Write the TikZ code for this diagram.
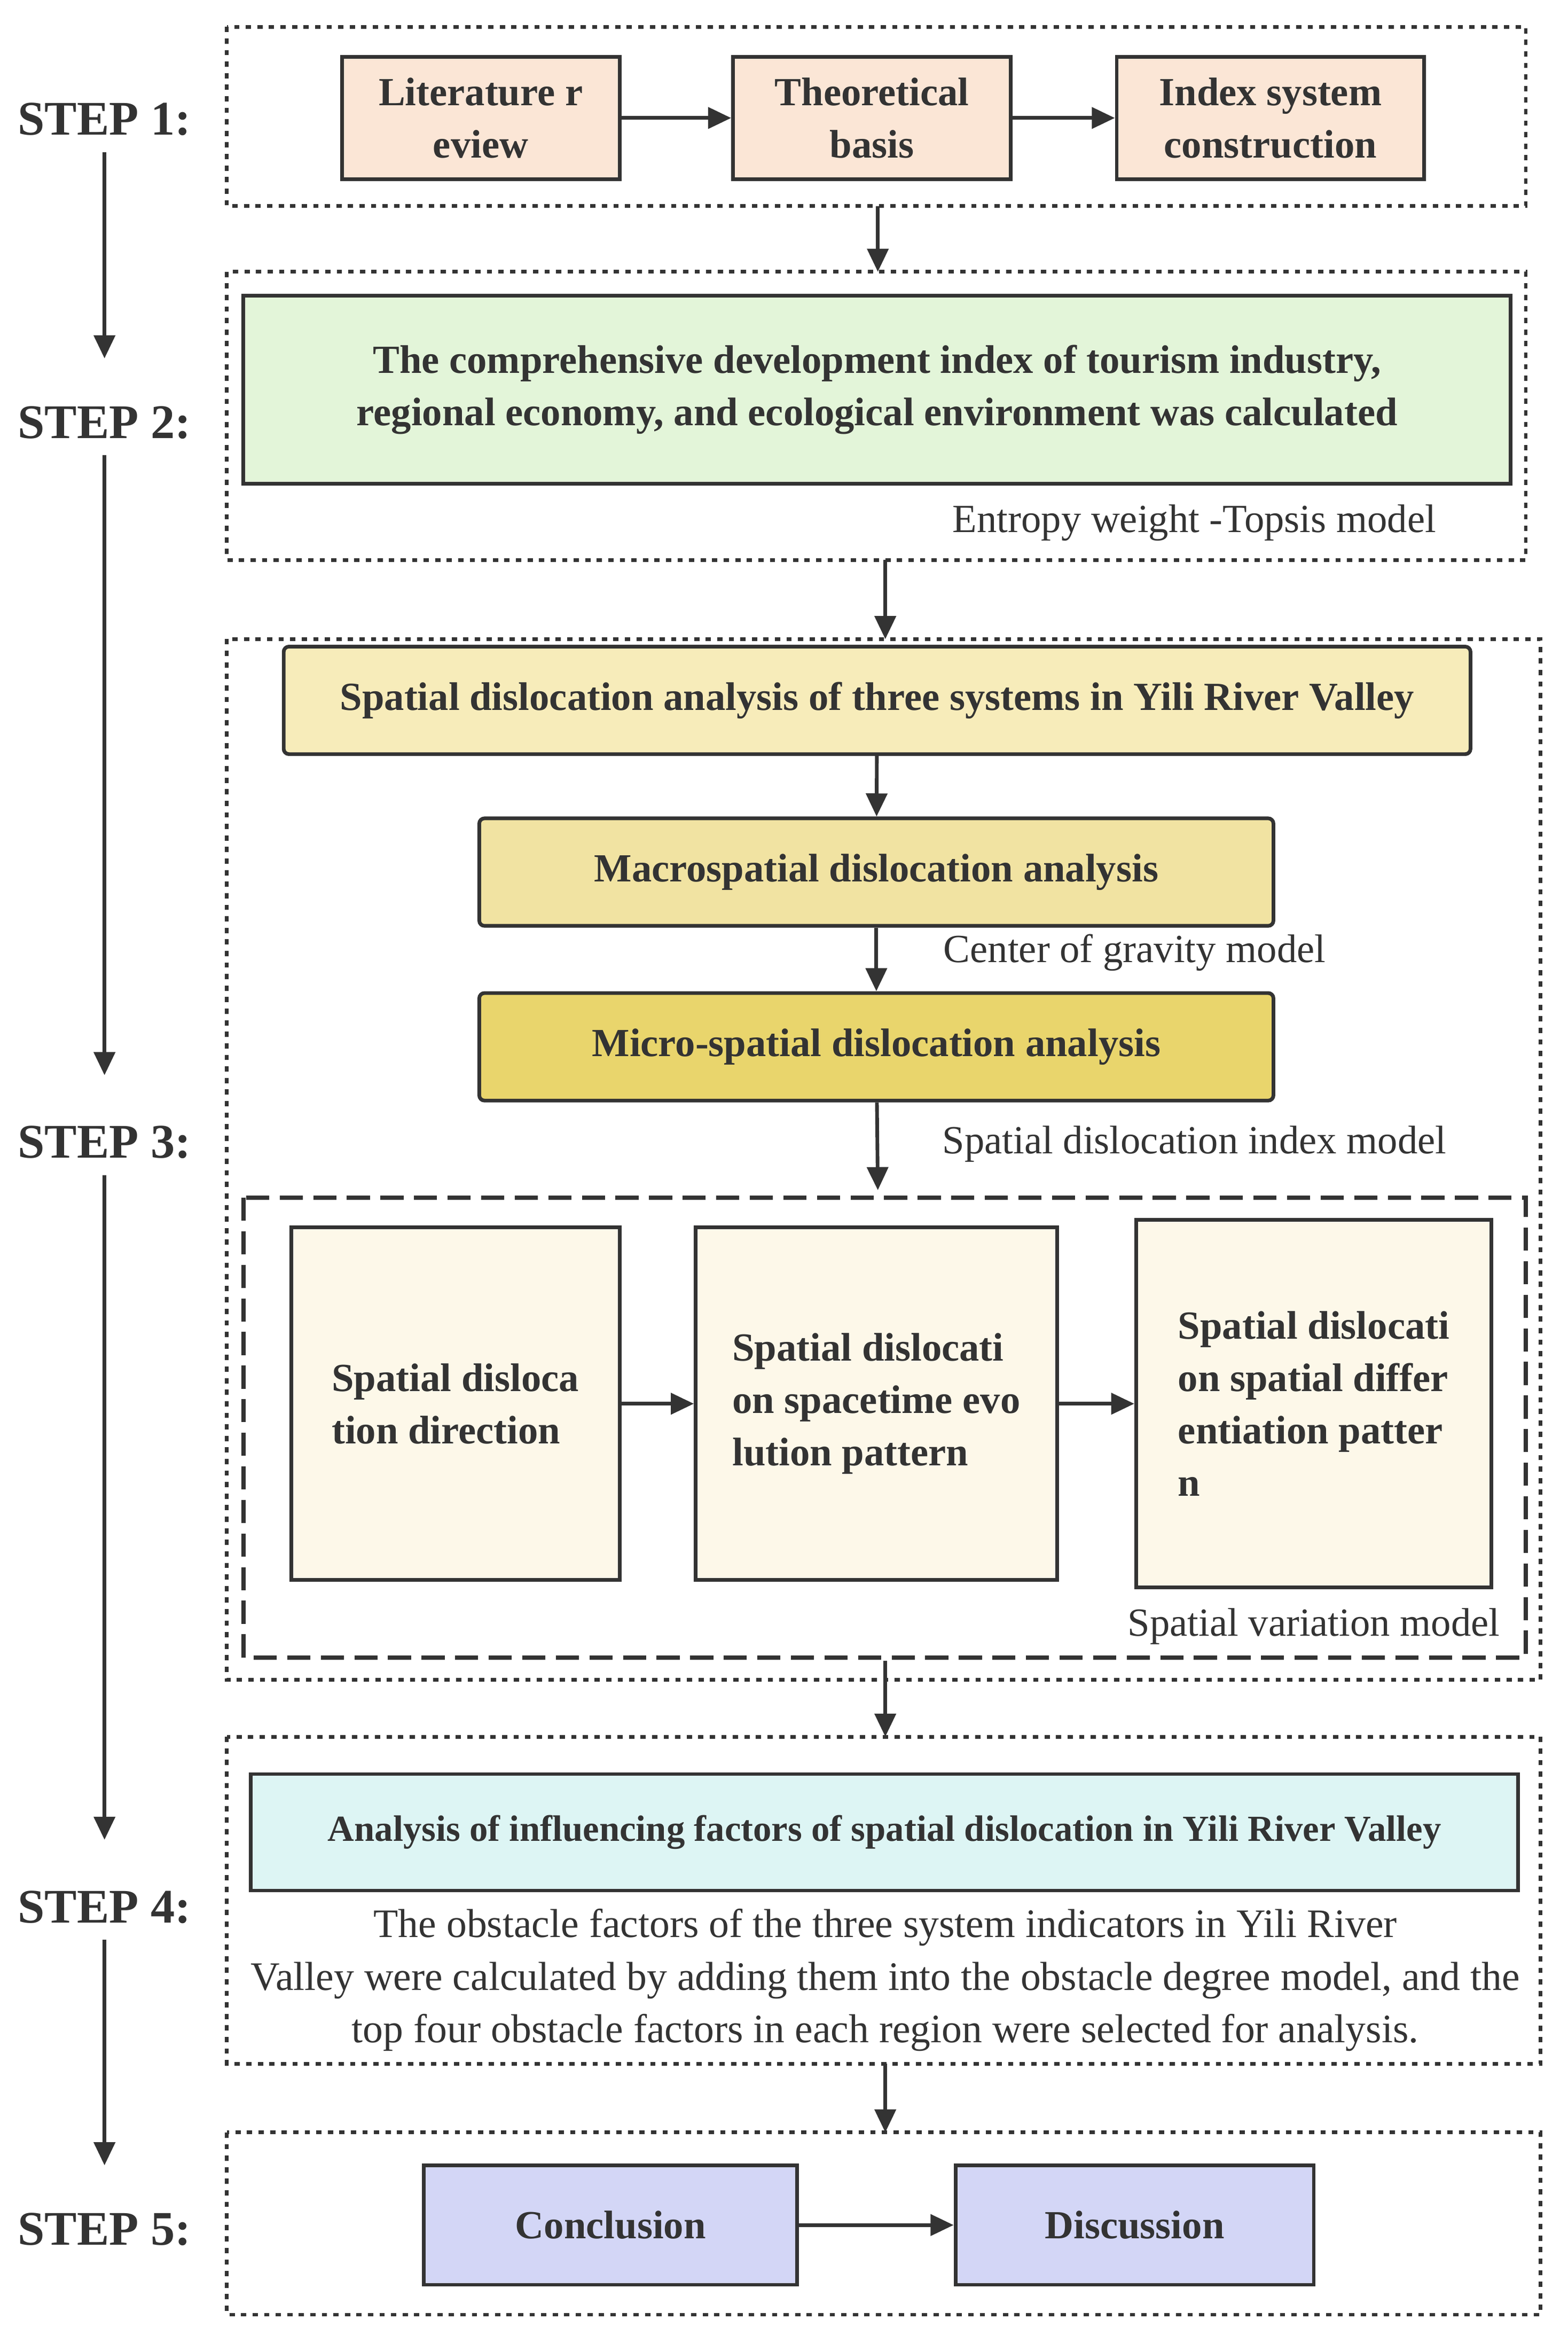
\documentclass[tikz,border=0pt]{standalone}
\usepackage{fontspec}
\setmainfont{Liberation Serif}
\usetikzlibrary{arrows.meta,positioning}
\definecolor{peach}{HTML}{FBE6D6}
\definecolor{grn}{HTML}{E3F5D9}
\definecolor{yl1}{HTML}{F7ECBA}
\definecolor{yl2}{HTML}{F1E3A2}
\definecolor{yl3}{HTML}{E9D56C}
\definecolor{crm}{HTML}{FDF8E9}
\definecolor{cyn}{HTML}{DDF5F4}
\definecolor{prp}{HTML}{D3D6F6}
\definecolor{ln}{HTML}{333333}
\begin{document}
\begin{tikzpicture}[x=0.05cm,y=-0.05cm,
  box/.style={draw=ln,line width=3.5pt,font=\fontsize{38}{50}\selectfont\bfseries,text=ln,align=center,inner sep=2pt},
  rbox/.style={box,rounded corners=5pt},
  dot/.style={draw=ln,line width=3.5pt,dash pattern=on 5pt off 6pt},
  dsh/.style={draw=ln,line width=4pt,dash pattern=on 22pt off 10pt},
  arr/.style={draw=ln,line width=3.5pt,-{Triangle[length=22pt,width=20pt]}},
  lbl/.style={font=\fontsize{38}{50}\selectfont,text=ln},
  steplbl/.style={font=\fontsize{46}{52}\selectfont\bfseries,text=ln}]
\useasboundingbox[fill=white] (0,0) rectangle (1050,1569);
% dotted frames
\draw[dot] (152,18) rectangle (1022,138);
\draw[dot] (152,182) rectangle (1022,375);
\draw[dot] (152,428) rectangle (1032,1125);
\draw[dsh] (163,802) rectangle (1022,1110);
\draw[dot] (152,1163) rectangle (1032,1382);
\draw[dot] (152,1428) rectangle (1032,1550);
\coordinate (f1b) at (588,138); \coordinate (f2t) at (588,182);
\coordinate (f2b) at (593,375); \coordinate (f3t) at (593,428);
\coordinate (f3b) at (593,1112); \coordinate (f4t) at (593,1163);
\coordinate (f4b) at (593,1382); \coordinate (f5t) at (593,1428);
\coordinate (dt) at (588,797);
\coordinate (a1) at (70,240); \coordinate (a2) at (70,720);
\coordinate (a3) at (70,1232); \coordinate (a4) at (70,1450);
% step labels
\node[steplbl] (s1) at (70,80) {STEP 1:};
\node[steplbl] (s2) at (70,283) {STEP 2:};
\node[steplbl] (s3) at (70,765) {STEP 3:};
\node[steplbl] (s4) at (70,1277) {STEP 4:};
\node[steplbl] (s5) at (70,1493) {STEP 5:};
\draw[arr,shorten <=12pt] (s1) -- (a1);
\draw[arr,shorten <=12pt] (s2) -- (a2);
\draw[arr,shorten <=12pt] (s3) -- (a3);
\draw[arr,shorten <=12pt] (s4) -- (a4);
% step 1
\node[box,fill=peach,minimum width=9.3cm,minimum height=4.1cm] (lit) at (322,79) {Literature r\\eview};
\node[box,fill=peach,minimum width=9.3cm,minimum height=4.1cm] (theo) at (584,79) {Theoretical\\basis};
\node[box,fill=peach,minimum width=10.3cm,minimum height=4.1cm] (idx) at (851,79) {Index system\\construction};
\draw[arr] (lit) -- (theo); \draw[arr] (theo) -- (idx);
\draw[arr] (f1b) -- (f2t);
% step 2
\node[box,fill=grn,minimum width=42.45cm,minimum height=6.3cm] (comp) at (587.5,261) {The comprehensive development index of tourism industry,\\regional economy, and ecological environment was calculated};
\node[lbl] (ent) at (800,350) {Entropy weight -Topsis model};
\draw[arr] (f2b) -- (f3t);
% step 3
\node[rbox,fill=yl1,minimum width=39.75cm,minimum height=3.6cm] (sda) at (587.5,469) {Spatial dislocation analysis of three systems in Yili River Valley};
\node[rbox,fill=yl2,minimum width=26.6cm,minimum height=3.6cm] (mac) at (587,584) {Macrospatial dislocation analysis};
\node[rbox,fill=yl3,minimum width=26.6cm,minimum height=3.6cm] (mic) at (587,701) {Micro-spatial dislocation analysis};
\node[lbl] (cg) at (760,638) {Center of gravity model};
\node[lbl] (sdi) at (800,766) {Spatial dislocation index model};
\draw[arr] (sda) -- (mac); \draw[arr] (mac) -- (mic); \draw[arr] (mic) -- (dt);
\node[box,fill=crm,minimum width=11cm,minimum height=11.8cm,align=left] (ba) at (305,940) {Spatial disloca\\tion direction};
\node[box,fill=crm,minimum width=12.1cm,minimum height=11.8cm,align=left] (bb) at (587,940) {Spatial dislocati\\on spacetime evo\\lution pattern};
\node[box,fill=crm,minimum width=11.9cm,minimum height=12.3cm,align=left] (bc) at (880,940) {Spatial dislocati\\on spatial differ\\entiation patter\\n};
\draw[arr] (ba) -- (bb); \draw[arr] (bb) -- (bc);
\node[lbl] (svm) at (880,1089) {Spatial variation model};
\draw[arr] (f3b) -- (f4t);
% step 4
\node[box,fill=cyn,minimum width=42.45cm,minimum height=3.9cm,font=\fontsize{35}{44}\selectfont\bfseries] (inf) at (592.5,1227) {Analysis of influencing factors of spatial dislocation in Yili River Valley};
\node[lbl,align=center,font=\fontsize{38.5}{50}\selectfont] (obs) at (593,1326) {The obstacle factors of the three system indicators in Yili River\\Valley were calculated by adding them into the obstacle degree model, and the\\top four obstacle factors in each region were selected for analysis.};
\draw[arr] (f4b) -- (f5t);
% step 5
\node[box,fill=prp,minimum width=12.5cm,minimum height=4cm] (con) at (409,1490) {Conclusion};
\node[box,fill=prp,minimum width=12cm,minimum height=4cm] (dis) at (760,1490) {Discussion};
\draw[arr] (con) -- (dis);
\end{tikzpicture}
\end{document}
